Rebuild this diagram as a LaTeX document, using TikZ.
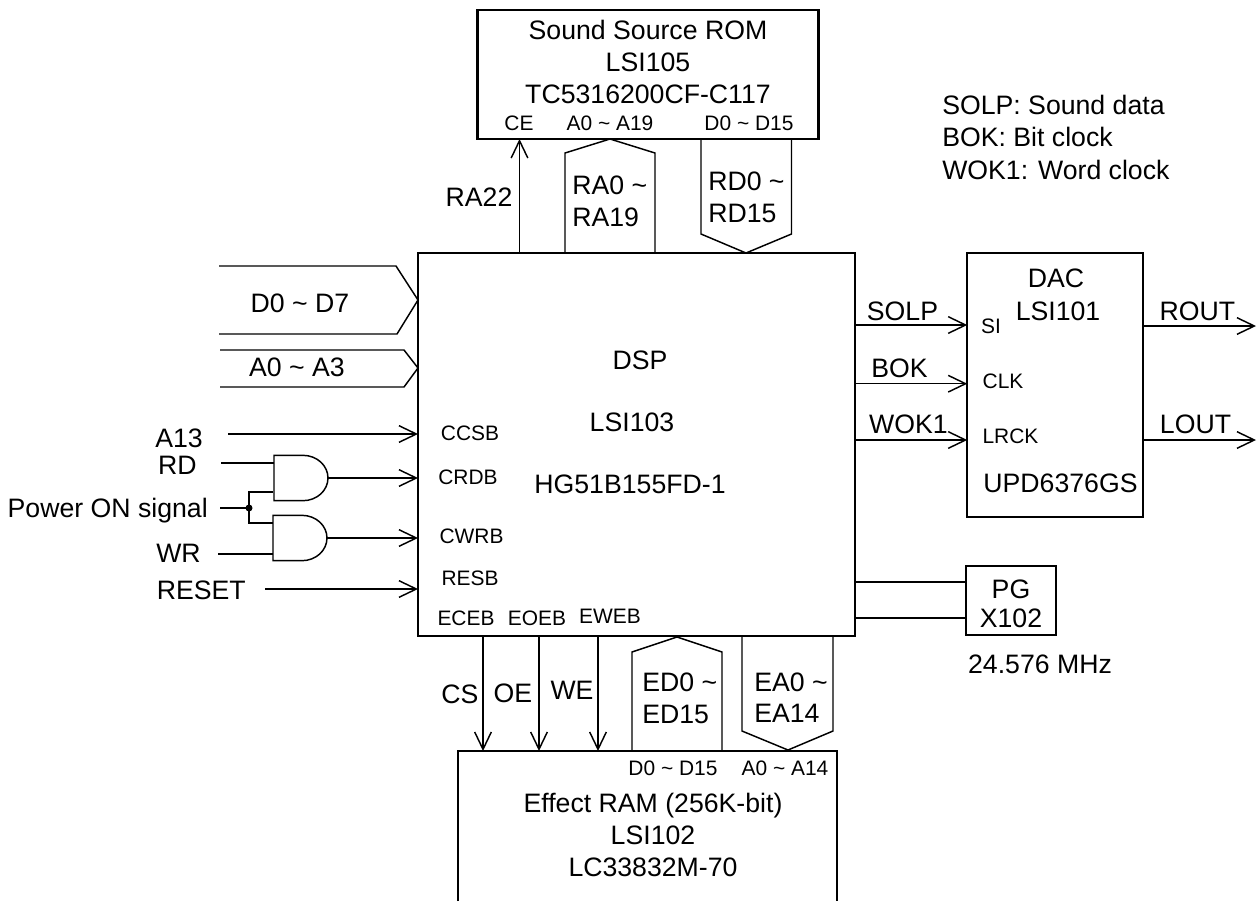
\documentclass[tikz,border=0pt]{standalone}
\usepackage{fontspec}
\setmainfont{Liberation Sans}
\usetikzlibrary{arrows.meta}
\newcommand\tld{\textasciitilde}
\tikzset{
  x=0.75pt,y=-0.75pt,
  wire/.style={line width=1.1pt,line join=miter},
  sig/.style={wire,-{Straight Barb[length=13pt,width=12.5pt,line width=1.1pt]}},
  box/.style={draw,line width=1.6pt,rectangle,inner sep=0pt,outer sep=0pt},
  big/.style={inner sep=0pt,text height=14.4pt,text depth=0pt,font=\fontsize{20}{24}\selectfont},
  small/.style={inner sep=0pt,text height=11.3pt,text depth=0pt,font=\fontsize{15.7}{19}\selectfont},
  gatesym/.style={rectangle,inner sep=0pt,outer sep=0pt,minimum width=40.5pt,minimum height=34pt},
}
\begin{document}
\begin{tikzpicture}
\useasboundingbox (0,0) rectangle (1257,901);
% boxes
\node[box,minimum width=341*0.75pt,minimum height=129*0.75pt] (rom) at (648,74.5) {};
\node[box,minimum width=437*0.75pt,minimum height=383*0.75pt] (dsp) at (636.5,444.5) {};
\node[box,minimum width=175.5*0.75pt,minimum height=264*0.75pt] (dac) at (1055,385) {};
\node[box,minimum width=90*0.75pt,minimum height=69*0.75pt] (pg) at (1011,600.5) {};
\coordinate (ramNW) at (458,751);
\coordinate (ramNE) at (837,751);
\coordinate (ramSW) at (458,901);
\coordinate (ramSE) at (837,901);
\draw[line width=1.6pt] (ramSW) -- (ramNW) -- (ramNE) -- (ramSE);
% ROM side
\draw[sig] (519.5,0 |- dsp.north) -- (519.5,0 |- rom.south);
\coordinate (raApex) at (610,139);
\draw[wire] (565,0 |- dsp.north) -- (565,153) -- (raApex) -- (655,153) -- (655,0 |- dsp.north);
\coordinate (rdApex) at (746,253);
\draw[wire] (701,0 |- rom.south) -- (701,234) -- (rdApex) -- (791.5,234) -- (791.5,0 |- rom.south);
% left buses
\draw[wire] (219,266) -- (396,266) -- (418,300) -- (397,334) -- (219,334);
\draw[wire] (220,350) -- (404,350) -- (418,368) -- (404,387) -- (220,387);
% left signals
\coordinate (a13) at (228,434);
\draw[sig] (a13) -- (a13 -| dsp.west);
\coordinate (reset) at (265,589);
\draw[sig] (reset) -- (reset -| dsp.west);
\node[gatesym] (g1) at (301,478) {};
\node[gatesym] (g2) at (300,538) {};
\draw[wire] (g1.north west) -- ++(29,0) arc[start angle=90,end angle=-90,x radius=18.75pt,y radius=17pt] -- (g1.south west) -- cycle;
\draw[wire] (g2.north west) -- ++(29,0) arc[start angle=90,end angle=-90,x radius=18.75pt,y radius=17pt] -- (g2.south west) -- cycle;
\draw[sig] (g1.east) -- (g1.east -| dsp.west);
\draw[sig] (g2.east) -- (g2.east -| dsp.west);
\coordinate (rdin) at (221,463);
\coordinate (wrin) at (218,554);
\coordinate (pwr) at (220,508);
\coordinate (jct) at (249,508);
\coordinate (g1b) at (273,492);
\coordinate (g2a) at (273,523);
\draw[wire] (rdin) -- (rdin -| g1.west);
\draw[wire] (wrin) -- (wrin -| g2.west);
\draw[wire] (pwr) -- (jct);
\draw[wire] (g1b) -| (jct) |- (g2a);
\fill (jct) circle[radius=3.5];
% RAM side
\draw[sig] (483,0 |- dsp.south) -- (483,0 |- ramNW);
\draw[sig] (539,0 |- dsp.south) -- (539,0 |- ramNW);
\draw[sig] (598,0 |- dsp.south) -- (598,0 |- ramNW);
\coordinate (edApex) at (677,637);
\draw[wire] (632,0 |- ramNW) -- (632,652) -- (edApex) -- (722,652) -- (722,0 |- ramNW);
\coordinate (eaApex) at (788,750);
\draw[wire] (742,0 |- dsp.south) -- (742,731) -- (eaApex) -- (833,731) -- (833,0 |- dsp.south);
% right signals
\coordinate (solpY) at (967,325);
\coordinate (bokY) at (967,383.7);
\coordinate (wokY) at (967,440);
\draw[sig] (solpY -| dsp.east) -- (solpY -| dac.west);
\draw[sig] (bokY -| dsp.east) -- (bokY -| dac.west);
\draw[sig] (wokY -| dsp.east) -- (wokY -| dac.west);
\coordinate (rout) at (1256,326);
\coordinate (lout) at (1256,440);
\draw[sig] (rout -| dac.east) -- (rout);
\draw[sig] (lout -| dac.east) -- (lout);
\coordinate (pgA) at (966,582);
\coordinate (pgB) at (966,618);
\draw[wire] (pgA -| dsp.east) -- (pgA -| pg.west);
\draw[wire] (pgB -| dsp.east) -- (pgB -| pg.west);
% ROM text
\node[big] (t1) at (648,30) {Sound Source ROM};
\node[big] (t2) at (648,62) {LSI105};
\node[big] (t3) at (648,94) {TC5316200CF-C117};
\node[small] (t4) at (519,123) {CE};
\node[small] (t5) at (610,123) {A0 \tld{} A19};
\node[small] (t6) at (749,123) {D0 \tld{} D15};
\node[big] (t7) at (479,197) {RA22};
\node[big,anchor=west] (t8) at (572,185) {RA0 \tld};
\node[big,anchor=west] (t9) at (572,217) {RA19};
\node[big,anchor=west] (t10) at (708,181) {RD0 \tld};
\node[big,anchor=west] (t11) at (708,213) {RD15};
% legend
\node[big,anchor=west] (l1) at (942,105) {SOLP: Sound data};
\node[big,anchor=west] (l2) at (942,137) {BOK: Bit clock};
\node[big,anchor=west] (l3) at (942,170) {WOK1: Word clock};
% left text
\node[big] (t12) at (300,303) {D0 \tld{} D7};
\node[big] (t13) at (297,367) {A0 \tld{} A3};
\node[big] (t14) at (179,437.5) {A13};
\node[big] (t15) at (177.5,464.5) {RD};
\node[big,anchor=east] (t16) at (208,508) {Power ON signal};
\node[big] (t17) at (178.5,553) {WR};
\node[big,anchor=east] (t18) at (246,589.5) {RESET};
% DSP text
\node[small] (p1) at (470,433) {CCSB};
\node[small] (p2) at (468,477) {CRDB};
\node[small] (p3) at (471.5,536) {CWRB};
\node[small] (p4) at (470,578) {RESB};
\node[small] (p5) at (466,618) {ECEB};
\node[small] (p6) at (537,618) {EOEB};
\node[small] (p7) at (610,616) {EWEB};
\node[big] (d1) at (640,360) {DSP};
\node[big] (d2) at (632,422) {LSI103};
\node[big] (d3) at (630,484) {HG51B155FD-1};
% right text
\node[big] (r1) at (902.5,310.5) {SOLP};
\node[big] (r2) at (899.5,368) {BOK};
\node[big] (r3) at (908.5,424) {WOK1};
\node[big] (r4) at (1056,278) {DAC};
\node[big] (r5) at (1058,311) {LSI101};
\node[small] (r6) at (991,326) {SI};
\node[small] (r7) at (1003,380.5) {CLK};
\node[small] (r8) at (1010.5,436) {LRCK};
\node[big] (r9) at (1060.5,483) {UPD6376GS};
\node[big] (r10) at (1197.5,310.5) {ROUT};
\node[big] (r11) at (1195.5,424) {LOUT};
\node[big] (r12) at (1011,589) {PG};
\node[big] (r13) at (1011,618) {X102};
\node[big] (r14) at (1040,664) {24.576 MHz};
% RAM text
\node[big] (b1) at (460,694) {CS};
\node[big] (b2) at (513,693) {OE};
\node[big] (b3) at (572,690) {WE};
\node[big,anchor=west] (b4) at (642,682) {ED0 \tld};
\node[big,anchor=west] (b5) at (642,714) {ED15};
\node[big,anchor=west] (b6) at (754,682) {EA0 \tld};
\node[big,anchor=west] (b7) at (754,713) {EA14};
\node[small] (b8) at (673,768) {D0 \tld{} D15};
\node[small] (b9) at (785,768) {A0 \tld{} A14};
\node[big] (b10) at (653,803) {Effect RAM (256K-bit)};
\node[big] (b11) at (653,835) {LSI102};
\node[big] (b12) at (653,867) {LC33832M-70};
\end{tikzpicture}
\end{document}
